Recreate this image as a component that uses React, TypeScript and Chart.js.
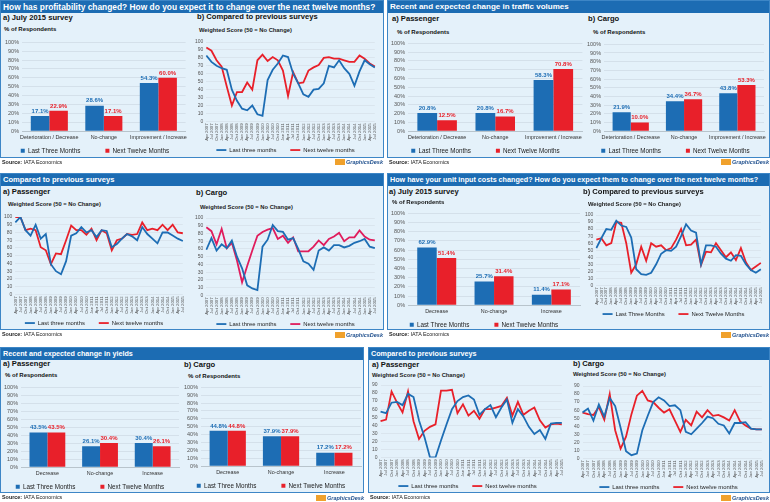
import React, { useEffect, useRef } from "react";
import { Chart, registerables } from "chart.js";
Chart.register(...registerables);

Chart.defaults.font.family = "'Liberation Sans', Arial, sans-serif";

const BLUE = "#1d6db4";
const RED = "#e8202a";
const PINK = "#e01c5c";
const PANEL_BG = "#e4f1fa";
const HEADER = "#1c6cb3";

// ---------- data ----------
const quarters = ["Apr 2007","Jul 2007","Oct 2007","Jan 2008","Apr 2008","Jul 2008","Oct 2008","Jan 2009","Apr 2009","Jul 2009","Oct 2009","Jan 2010","Apr 2010","Jul 2010","Oct 2010","Jan 2011","Apr 2011","Jul 2011","Oct 2011","Jan 2012","Apr 2012","Jul 2012","Oct 2012","Jan 2013","Apr 2013","Jul 2013","Oct 2013","Jan 2014","Apr 2014","Jul 2014","Oct 2014","Jan 2015","Apr 2015","Jul 2015"];

const catsProfit = ["Deterioration / Decrease", "No-change", "Improvement / Increase"];
const profitLast3 = [17.1, 28.6, 54.3];
const profitNext12 = [22.9, 17.1, 60.0];

const profitTrendLast = [83,75,70,67,65,40,26,16,14,20,9,7,52,65,73,83,81,60,48,34,31,40,41,48,70,68,77,67,60,45,63,77,72,68];
const profitTrendNext = [93,89,77,69,44,20,37,37,49,40,77,84,76,81,77,64,32,62,48,49,64,68,71,80,81,79,79,77,75,75,83,79,73,69];

const paxVolLast3 = [20.8, 20.8, 58.3];
const paxVolNext12 = [12.5, 16.7, 70.8];
const cargoVolLast3 = [21.9, 34.4, 43.8];
const cargoVolNext12 = [10.0, 36.7, 53.3];

const paxTrendLast = [93,100,83,76,90,72,78,39,30,26,43,76,79,87,80,83,74,83,82,61,65,72,78,75,70,87,78,72,66,80,80,76,72,69];
const paxTrendNext = [100,100,83,85,83,61,57,39,53,52,70,89,83,83,77,85,70,83,79,57,70,72,78,77,78,93,83,85,83,90,83,90,80,79];
const cargoTrendLast = [59,74,58,66,61,71,50,35,13,9,7,63,72,91,83,82,72,74,60,44,41,33,58,62,58,65,65,62,64,68,70,73,63,61];
const cargoTrendNext = [88,83,66,86,61,68,45,17,38,58,77,82,85,87,73,77,68,75,57,57,57,63,71,65,73,76,81,70,75,75,84,76,72,71];

const catsSimple = ["Decrease", "No-change", "Increase"];
const costLast3 = [62.9, 25.7, 11.4];
const costNext12 = [51.4, 31.4, 17.1];
const costTrendLast = [53,67,80,79,92,85,83,68,23,16,15,18,30,45,50,49,55,70,87,78,75,30,57,57,55,45,38,35,43,42,30,22,18,23];
const costTrendNext = [65,67,57,60,90,89,60,18,30,55,35,60,55,57,50,53,65,80,57,58,65,29,48,47,60,50,40,47,36,53,33,22,27,32];

const paxYieldLast3 = [43.5, 26.1, 30.4];
const paxYieldNext12 = [43.5, 30.4, 26.1];
const cargoYieldLast3 = [44.8, 37.9, 17.2];
const cargoYieldNext12 = [44.8, 37.9, 17.2];

const paxYieldTrendLast = [57,55,68,69,65,79,75,46,25,0,0,21,41,60,70,75,77,72,53,60,65,50,62,72,43,60,51,38,29,34,23,42,43,43];
const paxYieldTrendNext = [45,47,82,68,56,82,45,23,33,38,41,83,83,84,55,66,52,58,48,60,60,62,64,74,52,69,53,58,62,46,37,41,42,41];
const cargoYieldTrendLast = [57,62,47,67,52,75,65,38,9,4,6,35,53,70,76,72,65,66,60,33,30,37,44,52,50,43,41,31,44,44,45,37,36,36];
const cargoYieldTrendNext = [57,55,54,64,48,80,35,12,27,55,78,84,72,70,63,57,61,47,33,48,41,58,51,60,53,54,51,47,60,46,41,37,36,36];

// ---------- plugins ----------
const valueLabels = {
  id: "valueLabels",
  afterDatasetsDraw(chart: any) {
    const ctx = chart.ctx;
    chart.data.datasets.forEach((ds: any, i: number) => {
      const meta = chart.getDatasetMeta(i);
      meta.data.forEach((bar: any, j: number) => {
        const v = ds.data[j];
        ctx.save();
        ctx.font = "bold 6px 'Liberation Sans', Arial, sans-serif";
        ctx.fillStyle = ds.backgroundColor;
        ctx.textAlign = "center";
        ctx.textBaseline = "bottom";
        ctx.fillText(v.toFixed(1) + "%", bar.x, bar.y - 2);
        ctx.restore();
      });
    });
  },
};

type BarProps = { x: number; y: number; w: number; h: number; cats: string[]; a: number[]; b: number[]; gap?: string };

function BarBox({ x, y, w, h, cats, a, b, gap = "            " }: BarProps) {
  const ref = useRef<HTMLCanvasElement>(null);
  useEffect(() => {
    const chart = new Chart(ref.current!, {
      type: "bar",
      data: {
        labels: cats,
        datasets: [
          { label: "Last Three Months" + gap, data: a, backgroundColor: BLUE, categoryPercentage: 0.68, barPercentage: 1 },
          { label: "Next Twelve Months", data: b, backgroundColor: RED, categoryPercentage: 0.68, barPercentage: 1 },
        ],
      },
      options: {
        responsive: false,
        animation: false,
        devicePixelRatio: 1,
        layout: { padding: { top: 2, right: 2, left: 0, bottom: 0 } },
        plugins: {
          legend: { position: "bottom", labels: { boxWidth: 4, boxHeight: 4, padding: 4, font: { size: 6.3 }, color: "#222" } },
          tooltip: { enabled: false },
        },
        scales: {
          x: {
            grid: { display: false, drawTicks: false },
            border: { color: "#b8c4cc" },
            ticks: { font: { size: 5.4 }, color: "#333", padding: 3, maxRotation: 0, autoSkip: false },
          },
          y: {
            min: 0,
            max: 100,
            ticks: { stepSize: 10, autoSkip: false, callback: (v: any) => v + "%", font: { size: 5.5 }, color: "#555", padding: 3 },
            grid: { color: "#cdd9e2", lineWidth: 0.7, drawTicks: false },
            border: { display: false },
          },
        },
      },
      plugins: [valueLabels],
    } as any);
    return () => chart.destroy();
  }, []);
  return <canvas ref={ref} width={w} height={h} style={{ position: "absolute", left: x, top: y, width: w, height: h }} />;
}

type LineProps = {
  x: number; y: number; w: number; h: number; a: number[]; b: number[]; yMax?: number;
  names?: [string, string]; red?: string;
};

function LineBox({ x, y, w, h, a, b, yMax = 100, names = ["Last three months", "Next twelve months"], red = RED }: LineProps) {
  const ref = useRef<HTMLCanvasElement>(null);
  useEffect(() => {
    const chart = new Chart(ref.current!, {
      type: "line",
      data: {
        labels: quarters,
        datasets: [
          { label: names[0] + "      ", data: a, borderColor: BLUE, backgroundColor: BLUE, borderWidth: 1.8, pointRadius: 0, tension: 0 },
          { label: names[1], data: b, borderColor: red, backgroundColor: red, borderWidth: 1.8, pointRadius: 0, tension: 0 },
        ],
      },
      options: {
        responsive: false,
        animation: false,
        devicePixelRatio: 1,
        layout: { padding: { top: 2, right: 3, left: 0, bottom: 0 } },
        plugins: {
          legend: {
            position: "bottom",
            labels: { usePointStyle: true, pointStyle: "line", pointStyleWidth: 10, boxHeight: 6, padding: 4, font: { size: 5.9 }, color: "#222" },
          },
          tooltip: { enabled: false },
        },
        scales: {
          x: {
            grid: { display: false, drawTicks: false },
            border: { display: false },
            ticks: { font: { size: 4.3 }, color: "#555", padding: 2, minRotation: 90, maxRotation: 90, autoSkip: false },
          },
          y: {
            min: 0,
            max: yMax,
            ticks: { stepSize: 10, autoSkip: false, font: { size: 5 }, color: "#555", padding: 3 },
            grid: { color: "#d3dee6", lineWidth: 0.6, drawTicks: false },
            border: { display: false },
          },
        },
      },
    } as any);
    return () => chart.destroy();
  }, []);
  return <canvas ref={ref} width={w} height={h} style={{ position: "absolute", left: x, top: y, width: w, height: h }} />;
}

const Panel = ({ x, y, w, h, title, fs = 8 }: any) => (
  <div style={{ position: "absolute", left: x, top: y, width: w, height: h, background: PANEL_BG, border: "1px solid #3d86c6", boxSizing: "border-box" }}>
    <div style={{ height: 12, background: HEADER, color: "#fff", fontWeight: "bold", fontSize: fs, lineHeight: "12px", paddingLeft: 2, whiteSpace: "nowrap", overflow: "hidden" }}>{title}</div>
  </div>
);

const T = ({ x, y, s, bold, color, children }: any) => (
  <div style={{ position: "absolute", left: x, top: y - s * 0.6, fontSize: s, lineHeight: 1.2, fontWeight: bold ? "bold" : "normal", color: color || "#111", whiteSpace: "nowrap" }}>{children}</div>
);

const Sub = (p: any) => <T s={7.6} bold {...p} />;
const Resp = (p: any) => <T s={6} bold {...p} />;
const WS = (p: any) => <T s={5.8} bold color="#222" {...p}>Weighted Score  (50 = No Change)</T>;

const Source = ({ x, y }: any) => (
  <div style={{ position: "absolute", left: x, top: y - 4, fontSize: 5.4, lineHeight: "8px", color: "#222", whiteSpace: "nowrap" }}>
    <b>Source:</b> IATA Economics
  </div>
);

const Logo = ({ x, y }: any) => (
  <div style={{ position: "absolute", left: x, top: y, display: "flex", alignItems: "center", height: 7, whiteSpace: "nowrap" }}>
    <span style={{ display: "inline-block", width: 10, height: 6, background: "#f0a12c", marginRight: 1 }} />
    <span style={{ fontSize: 5.5, fontWeight: "bold", fontStyle: "italic", color: "#1f4f8d" }}>GraphicsDesk</span>
  </div>
);

export default function App() {
  return (
    <div style={{ position: "fixed", left: 0, top: 0, width: 770, height: 502, background: "#fff", overflow: "hidden", fontFamily: "'Liberation Sans', Arial, sans-serif" }}>
      <Panel x={0} y={0} w={384} h={158} fs={8.4} title="How has profitability changed? How do you expect it to change over the next twelve months?" />
      <Panel x={387} y={0} w={383} h={158} title="Recent and expected change in traffic volumes" fs={8} />
      <Panel x={0} y={173} w={384} h={157} title="Compared to previous surveys" fs={7.6} />
      <Panel x={387} y={173} w={383} h={157} fs={7.2} title="How have your unit input costs changed? How do you expect them to change over the next twelve months?" />
      <Panel x={0} y={347} w={364} h={146} title="Recent and expected change in yields" fs={7.2} />
      <Panel x={368} y={347} w={402} h={146} title="Compared to previous surveys" fs={7.2} />

      {/* Panel 1 */}
      <Sub x={3} y={18}>a) July 2015 survey</Sub>
      <Resp x={4} y={30}>% of Respondents</Resp>
      <Sub x={197} y={17}>b) Compared to previous surveys</Sub>
      <WS x={199} y={30} />
      <BarBox x={2} y={36} w={188} h={128} cats={catsProfit} a={profitLast3} b={profitNext12} />
      <LineBox x={192} y={36} w={190} h={127} a={profitTrendLast} b={profitTrendNext} />
      <Source x={2} y={162} />
      <Logo x={335} y={158} />

      {/* Panel 2 */}
      <Sub x={392} y={19}>a) Passenger</Sub>
      <Resp x={397} y={33}>% of Respondents</Resp>
      <Sub x={588} y={19}>b) Cargo</Sub>
      <Resp x={593} y={33}>% of Respondents</Resp>
      <BarBox x={388} y={37} w={197} h={127} cats={catsProfit} a={paxVolLast3} b={paxVolNext12} />
      <BarBox x={584} y={38} w={185} h={126} cats={catsProfit} a={cargoVolLast3} b={cargoVolNext12} />
      <Source x={389} y={162} />
      <Logo x={721} y={158} />

      {/* Panel 3 */}
      <Sub x={3} y={192}>a) Passenger</Sub>
      <WS x={8} y={204} />
      <Sub x={196} y={193}>b) Cargo</Sub>
      <WS x={200} y={207} />
      <LineBox x={1} y={211} w={189} h={125} a={paxTrendLast} b={paxTrendNext} />
      <LineBox x={192} y={212} w={190} h={125} a={cargoTrendLast} b={cargoTrendNext} red={PINK} />
      <Source x={2} y={334} />
      <Logo x={335} y={331} />

      {/* Panel 4 */}
      <Sub x={389} y={192}>a) July 2015 survey</Sub>
      <Resp x={392} y={203}>% of Respondents</Resp>
      <Sub x={583} y={192}>b) Compared to previous surveys</Sub>
      <WS x={588} y={204} />
      <BarBox x={388} y={207} w={194} h={131} cats={catsSimple} a={costLast3} b={costNext12} />
      <LineBox x={582} y={209} w={186} h={118} a={costTrendLast} b={costTrendNext} names={["Last Three Months", "Next Twelve Months"]} />
      <Source x={389} y={334} />
      <Logo x={721} y={331} />

      {/* Panel 5 */}
      <Sub x={3} y={364}>a) Passenger</Sub>
      <Resp x={5} y={376}>% of Respondents</Resp>
      <Sub x={184} y={365}>b) Cargo</Sub>
      <Resp x={188} y={377}>% of Respondents</Resp>
      <BarBox x={1} y={381} w={180} h={119} cats={catsSimple} a={paxYieldLast3} b={paxYieldNext12} />
      <BarBox x={181} y={381} w={182} h={118} cats={catsSimple} a={cargoYieldLast3} b={cargoYieldNext12} />
      <Source x={2} y={497} />
      <Logo x={316} y={494} />

      {/* Panel 6 */}
      <Sub x={372} y={365}>a) Passenger</Sub>
      <WS x={372} y={375} />
      <Sub x={573} y={364}>b) Cargo</Sub>
      <WS x={573} y={374} />
      <LineBox x={369} y={379} w={200} h={120} a={paxYieldTrendLast} b={paxYieldTrendNext} yMax={90} />
      <LineBox x={571} y={380} w={198} h={120} a={cargoYieldTrendLast} b={cargoYieldTrendNext} yMax={90} />
      <Source x={370} y={497} />
      <Logo x={721} y={494} />
    </div>
  );
}
